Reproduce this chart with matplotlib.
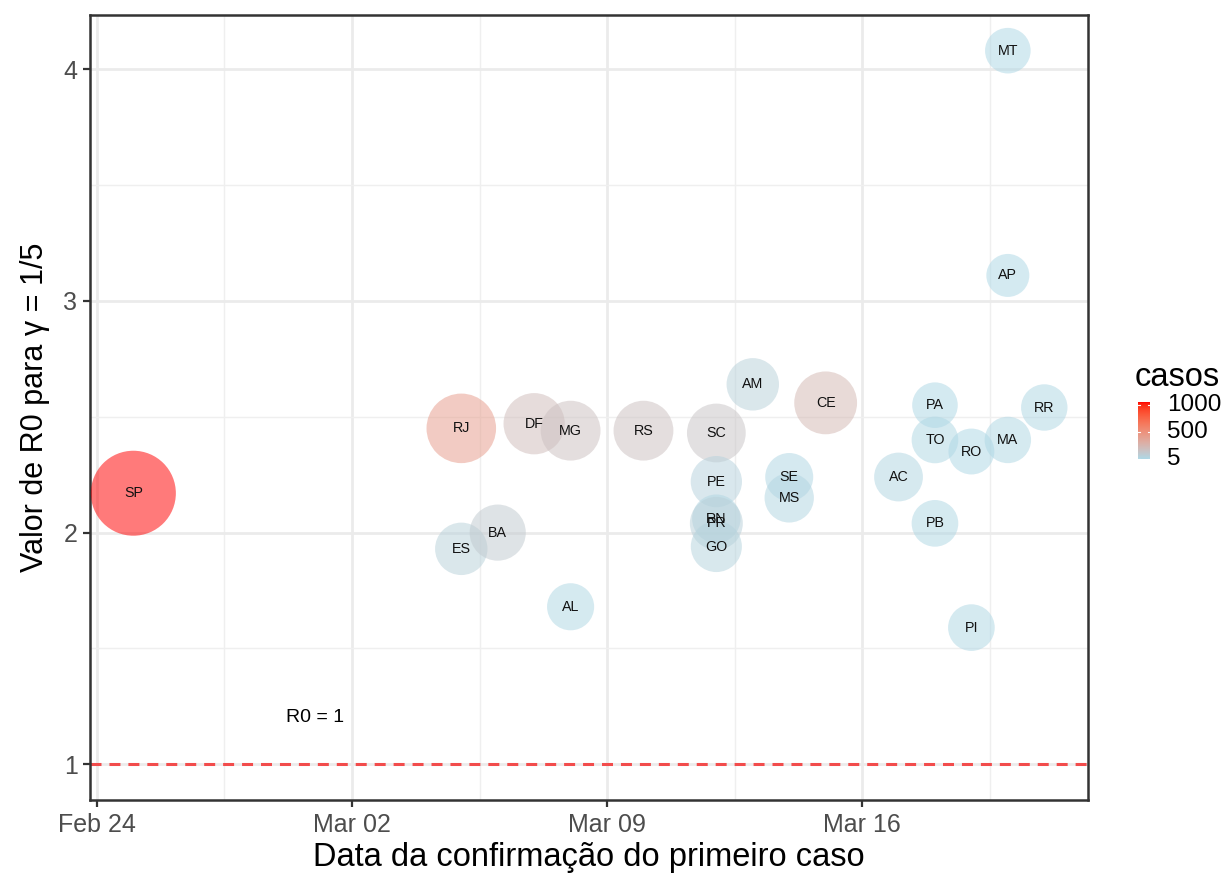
import numpy as np
import matplotlib
matplotlib.use("Agg")
import matplotlib.pyplot as plt
import matplotlib.dates as mdates
from datetime import datetime, timedelta

plt.rcParams['font.family'] = ['Liberation Sans', 'DejaVu Sans']

# Estados, data do primeiro caso confirmado, R0 estimado e casos acumulados
estados = ["SP", "RJ", "ES", "BA", "DF", "MG", "AL", "RS", "SC", "PE", "RN", "PR",
           "GO", "AM", "SE", "MS", "CE", "AC", "PA", "TO", "PB", "RO", "PI",
           "MT", "AP", "MA", "RR"]
datas = ["2020-02-25", "2020-03-05", "2020-03-05", "2020-03-06", "2020-03-07",
         "2020-03-08", "2020-03-08", "2020-03-10", "2020-03-12", "2020-03-12",
         "2020-03-12", "2020-03-12", "2020-03-12", "2020-03-13", "2020-03-14",
         "2020-03-14", "2020-03-15", "2020-03-17", "2020-03-18", "2020-03-18",
         "2020-03-18", "2020-03-19", "2020-03-19", "2020-03-20", "2020-03-20",
         "2020-03-20", "2020-03-21"]
r0 = [2.17, 2.45, 1.93, 2.00, 2.47, 2.44, 1.68, 2.44, 2.43, 2.22, 2.06, 2.04,
      1.94, 2.64, 2.24, 2.15, 2.56, 2.24, 2.55, 2.40, 2.04, 2.35, 1.59,
      4.08, 3.11, 2.40, 2.54]
casos = [1052, 421, 54, 104, 200, 170, 11, 170, 149, 42, 19, 60,
         40, 54, 16, 25, 235, 21, 5, 9, 9, 6, 9,
         5, 1, 8, 8]

cores_breaks = [5, 500, 1000]
ref_r0 = 1
ref_label = "R0 = 1"
ref_label_pos = ("2020-03-01", 1.20)


def _srgb_to_lab(rgb):
    rgb = np.asarray(rgb, float)
    lin = np.where(rgb <= 0.04045, rgb / 12.92, ((rgb + 0.055) / 1.055) ** 2.4)
    m = np.array([[0.4124564, 0.3575761, 0.1804375],
                  [0.2126729, 0.7151522, 0.0721750],
                  [0.0193339, 0.1191920, 0.9503041]])
    xyz = m @ lin
    wp = np.array([0.95047, 1.0, 1.08883])
    t = xyz / wp
    f = np.where(t > (6 / 29) ** 3, np.cbrt(t), t / (3 * (6 / 29) ** 2) + 4 / 29)
    return np.array([116 * f[1] - 16, 500 * (f[0] - f[1]), 200 * (f[1] - f[2])])


def _lab_to_srgb(lab):
    L, a, b = lab
    fy = (L + 16) / 116
    fx = fy + a / 500
    fz = fy - b / 200
    f = np.array([fx, fy, fz])
    t = np.where(f > 6 / 29, f ** 3, 3 * (6 / 29) ** 2 * (f - 4 / 29))
    xyz = t * np.array([0.95047, 1.0, 1.08883])
    minv = np.array([[3.2404542, -1.5371385, -0.4985314],
                     [-0.9692660, 1.8760108, 0.0415560],
                     [0.0556434, -0.2040259, 1.0572252]])
    lin = np.clip(minv @ xyz, 0, 1)
    rgb = np.where(lin <= 0.0031308, 12.92 * lin, 1.055 * lin ** (1 / 2.4) - 0.055)
    return np.clip(rgb, 0, 1)


LOW = _srgb_to_lab(np.array([173, 216, 230]) / 255)   # lightblue
HIGH = _srgb_to_lab(np.array([255, 0, 0]) / 255)      # red


def gradiente(t):
    return _lab_to_srgb(LOW + (HIGH - LOW) * t)


cmin, cmax = min(casos), max(casos)
x = [datetime.strptime(d, "%Y-%m-%d") for d in datas]
t_val = [(c - cmin) / (cmax - cmin) for c in casos]
cores = [tuple(gradiente(v)) + (0.52,) for v in t_val]

# bubble diameter grows with sqrt of rescaled cases (like scale_size)
dpi = 100
raio_px = [21.5 + 21.0 * np.sqrt(v) for v in t_val]
tam = [(2 * r * 72 / dpi) ** 2 for r in raio_px]

fig = plt.figure(figsize=(12.26, 8.77), dpi=dpi)
ax = fig.add_axes([90 / 1226, 77 / 877, 998 / 1226, 785 / 877])

ax.scatter(x, r0, s=tam, c=cores, edgecolors='none', zorder=3)
for xi, yi, e in zip(x, r0, estados):
    ax.text(xi, yi, e, ha='center', va='center', fontsize=10.3, color='#111111', zorder=4)

ax.axhline(ref_r0, color='#f24c4c', lw=2.2, ls=(0, (3.6, 2.6)), zorder=2)
ax.text(datetime.strptime(ref_label_pos[0], "%Y-%m-%d"), ref_label_pos[1], ref_label,
        ha='center', va='center', fontsize=14, color='black')

inicio = mdates.date2num(datetime(2020, 2, 24))
ax.set_xlim(inicio - 0.19, inicio + 27.2)
y0, y1 = 1.0, max(r0)
ypad = (y1 - y0) * 0.05
ax.set_ylim(y0 - ypad, y1 + ypad)

maj = [datetime(2020, 2, 24) + timedelta(days=7 * k) for k in range(4)]
ax.set_xticks(maj)
ax.set_xticklabels([d.strftime("%b %d") for d in maj])
ax.set_xticks([mdates.date2num(d) + 3.5 for d in maj], minor=True)
ax.set_yticks([1, 2, 3, 4])
ax.set_yticks([1.5, 2.5, 3.5], minor=True)

ax.grid(which='major', color='#EBEBEB', lw=2.0, zorder=0)
ax.grid(which='minor', color='#EFEFEF', lw=1.0, zorder=0)
ax.set_axisbelow(True)
ax.tick_params(which='major', length=5, width=1.6, color='#333333', labelsize=18,
               labelcolor='#4D4D4D', pad=4)
ax.tick_params(which='minor', length=0)
for s in ax.spines.values():
    s.set_color('#333333')
    s.set_linewidth(1.8)

ax.set_xlabel("Data da confirmação do primeiro caso", fontsize=23.5, labelpad=4)
ax.set_ylabel("Valor de R0 para γ = 1/5", fontsize=22, labelpad=10)

# colour legend
fig.text(1135 / 1226, 1 - 377 / 877, "casos", fontsize=23.5, ha='left', va='center')
cax = fig.add_axes([1138 / 1226, 1 - 459 / 877, 12 / 1226, 57 / 877])
grad = np.linspace(0, 1, 256)
img = np.array([gradiente(v) for v in grad])[:, None, :]
cax.imshow(img, origin='lower', aspect='auto', extent=[0, 1, cmin, cmax])
cax.set_xlim(0, 1)
cax.set_ylim(cmin, cmax)
cax.set_xticks([])
cax.set_yticks([])
for s in cax.spines.values():
    s.set_visible(False)
for b in cores_breaks:
    cax.plot([0, 0.2], [b, b], color='white', lw=0.8)
    cax.plot([0.8, 1], [b, b], color='white', lw=0.8)
    cax.text(2.4, b, str(b), fontsize=17.5, ha='left', va='center', color='black',
             transform=cax.get_yaxis_transform(), clip_on=False)

fig.savefig("out.png", dpi=dpi)
